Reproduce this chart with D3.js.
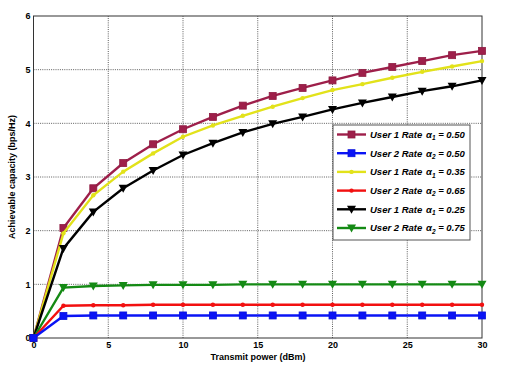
<!DOCTYPE html>
<html><head><meta charset="utf-8">
<script src="https://cdn.jsdelivr.net/npm/d3@7"></script>
<style>body{margin:0;background:#fff}svg{display:block}</style>
</head><body>
<svg id="c" width="507" height="369"></svg>
<script>
const xValues = [0,2,4,6,8,10,12,14,16,18,20,22,24,26,28,30];
const u1a050 = [0,2.05,2.79,3.26,3.61,3.89,4.12,4.33,4.51,4.66,4.80,4.94,5.05,5.16,5.27,5.35];
const u2a050 = [0,0.41,0.42,0.42,0.42,0.42,0.42,0.42,0.42,0.42,0.42,0.42,0.42,0.42,0.42,0.42];
const u1a035 = [0,1.95,2.66,3.10,3.44,3.75,3.96,4.14,4.31,4.47,4.62,4.73,4.85,4.96,5.06,5.16];
const u2a065 = [0,0.60,0.61,0.61,0.62,0.62,0.62,0.62,0.62,0.62,0.62,0.62,0.62,0.62,0.62,0.62];
const u1a025 = [0,1.67,2.35,2.79,3.12,3.41,3.63,3.83,3.99,4.12,4.26,4.38,4.49,4.60,4.69,4.80];
const u2a075 = [0,0.94,0.97,0.98,0.99,0.99,0.99,1.0,1.0,1.0,1.0,1.0,1.0,1.0,1.0,1.0];
const xTicks = [0,5,10,15,20,25,30];
const yTicks = [0,1,2,3,4,5,6];
const seriesNames = ["User 1 Rate","User 2 Rate","User 1 Rate","User 2 Rate","User 1 Rate","User 2 Rate"];
const alphaIdx = ["1","2","1","2","1","2"];
const alphaVals = ["0.50","0.50","0.35","0.65","0.25","0.75"];
const colors = ["#9e1f4a","#0a14f5","#e2e21a","#f21010","#000000","#148a14"];
const markers = ["square","square","dot","dot","tri","tri"];
const data = [u1a050,u2a050,u1a035,u2a065,u1a025,u2a075];

const svg = d3.select("#c");
const x = d3.scaleLinear().domain([0,30]).range([33.5,482]);
const y = d3.scaleLinear().domain([0,6]).range([338,16]);

// grid
const g = svg.append("g");
g.selectAll(".gx").data(xTicks.slice(1,-1)).enter().append("line")
 .attr("x1",d=>x(d)).attr("x2",d=>x(d)).attr("y1",y(0)).attr("y2",y(6))
 .attr("stroke","#333").attr("stroke-width",0.8).attr("stroke-dasharray","1,1.2");
g.selectAll(".gy").data(yTicks.slice(1,-1)).enter().append("line")
 .attr("y1",d=>y(d)).attr("y2",d=>y(d)).attr("x1",x(0)).attr("x2",x(30))
 .attr("stroke","#333").attr("stroke-width",0.8).attr("stroke-dasharray","1,1.2");

// axes
const xa = svg.append("g").attr("transform",`translate(0,${y(0)})`)
 .call(d3.axisBottom(x).tickValues(xTicks).tickFormat(d3.format("d")).tickSize(0).tickPadding(4));
const ya = svg.append("g").attr("transform",`translate(${x(0)},0)`)
 .call(d3.axisLeft(y).tickValues(yTicks).tickFormat(d3.format("d")).tickSize(0).tickPadding(3));
[xa,ya].forEach(a=>{a.select(".domain").remove();
 a.selectAll("text").attr("font-family","Liberation Sans, Arial, sans-serif").attr("font-weight","bold").attr("font-size",9).attr("fill","#000");});
svg.append("rect").attr("x",x(0)).attr("y",y(6)).attr("width",x(30)-x(0)).attr("height",y(0)-y(6))
 .attr("fill","none").attr("stroke","#333").attr("stroke-width",1);

// labels
svg.append("text").attr("x",258).attr("y",360).attr("text-anchor","middle")
 .attr("font-family","Liberation Sans, Arial, sans-serif").attr("font-weight","bold").attr("font-size",9).text("Transmit power (dBm)");
svg.append("text").attr("transform","translate(15,177) rotate(-90)").attr("text-anchor","middle")
 .attr("font-family","Liberation Sans, Arial, sans-serif").attr("font-weight","bold").attr("font-size",9).text("Achievable capacity (bps/Hz)");

function drawMarker(sel, type, color, cx, cy){
  if(type==="square") sel.append("rect").attr("x",cx-3.5).attr("y",cy-3.5).attr("width",7).attr("height",7).attr("fill",color).attr("stroke",d3.color(color).darker(0.3)).attr("stroke-width",0.8);
  else if(type==="dot") sel.append("circle").attr("cx",cx).attr("cy",cy).attr("r",2.2).attr("fill",color);
  else sel.append("path").attr("d",`M${cx-4.5},${cy-3.5}L${cx+4.5},${cy-3.5}L${cx},${cy+4.5}Z`).attr("fill",color);
}

const line = d3.line().x((d,i)=>x(xValues[i])).y(d=>y(d));
const order = [0,2,4,5,3,1];
order.forEach(k=>{
  const s = svg.append("g");
  s.append("path").datum(data[k]).attr("d",line).attr("fill","none").attr("stroke",colors[k]).attr("stroke-width",2.4);
  data[k].forEach((v,i)=>drawMarker(s,markers[k],colors[k],x(xValues[i]),y(v)));
});

// legend
const lg = svg.append("g");
lg.append("rect").attr("x",333).attr("y",125).attr("width",137).attr("height",115).attr("fill","#fff").attr("stroke","#555").attr("stroke-width",1);
seriesNames.forEach((n,k)=>{
  const ry = 134.5 + k*18.7;
  lg.append("line").attr("x1",337).attr("x2",366).attr("y1",ry).attr("y2",ry).attr("stroke",colors[k]).attr("stroke-width",2.4);
  drawMarker(lg,markers[k],colors[k],351.5,ry);
  const t = lg.append("text").attr("x",370).attr("y",ry+3.3)
   .attr("font-family","Liberation Sans, Arial, sans-serif").attr("font-weight","bold").attr("font-style","italic").attr("font-size",9.5);
  t.append("tspan").text(n);
  const t2 = lg.append("text").attr("x",426).attr("y",ry+3.3)
   .attr("font-family","Liberation Sans, Arial, sans-serif").attr("font-weight","bold").attr("font-style","italic").attr("font-size",9.5);
  t2.append("tspan").text("α");
  t2.append("tspan").attr("font-size",6.5).attr("dy",2.5).text(alphaIdx[k]);
  t2.append("tspan").attr("dy",-2.5).text(" = "+alphaVals[k]);
});
</script>
</body></html>
